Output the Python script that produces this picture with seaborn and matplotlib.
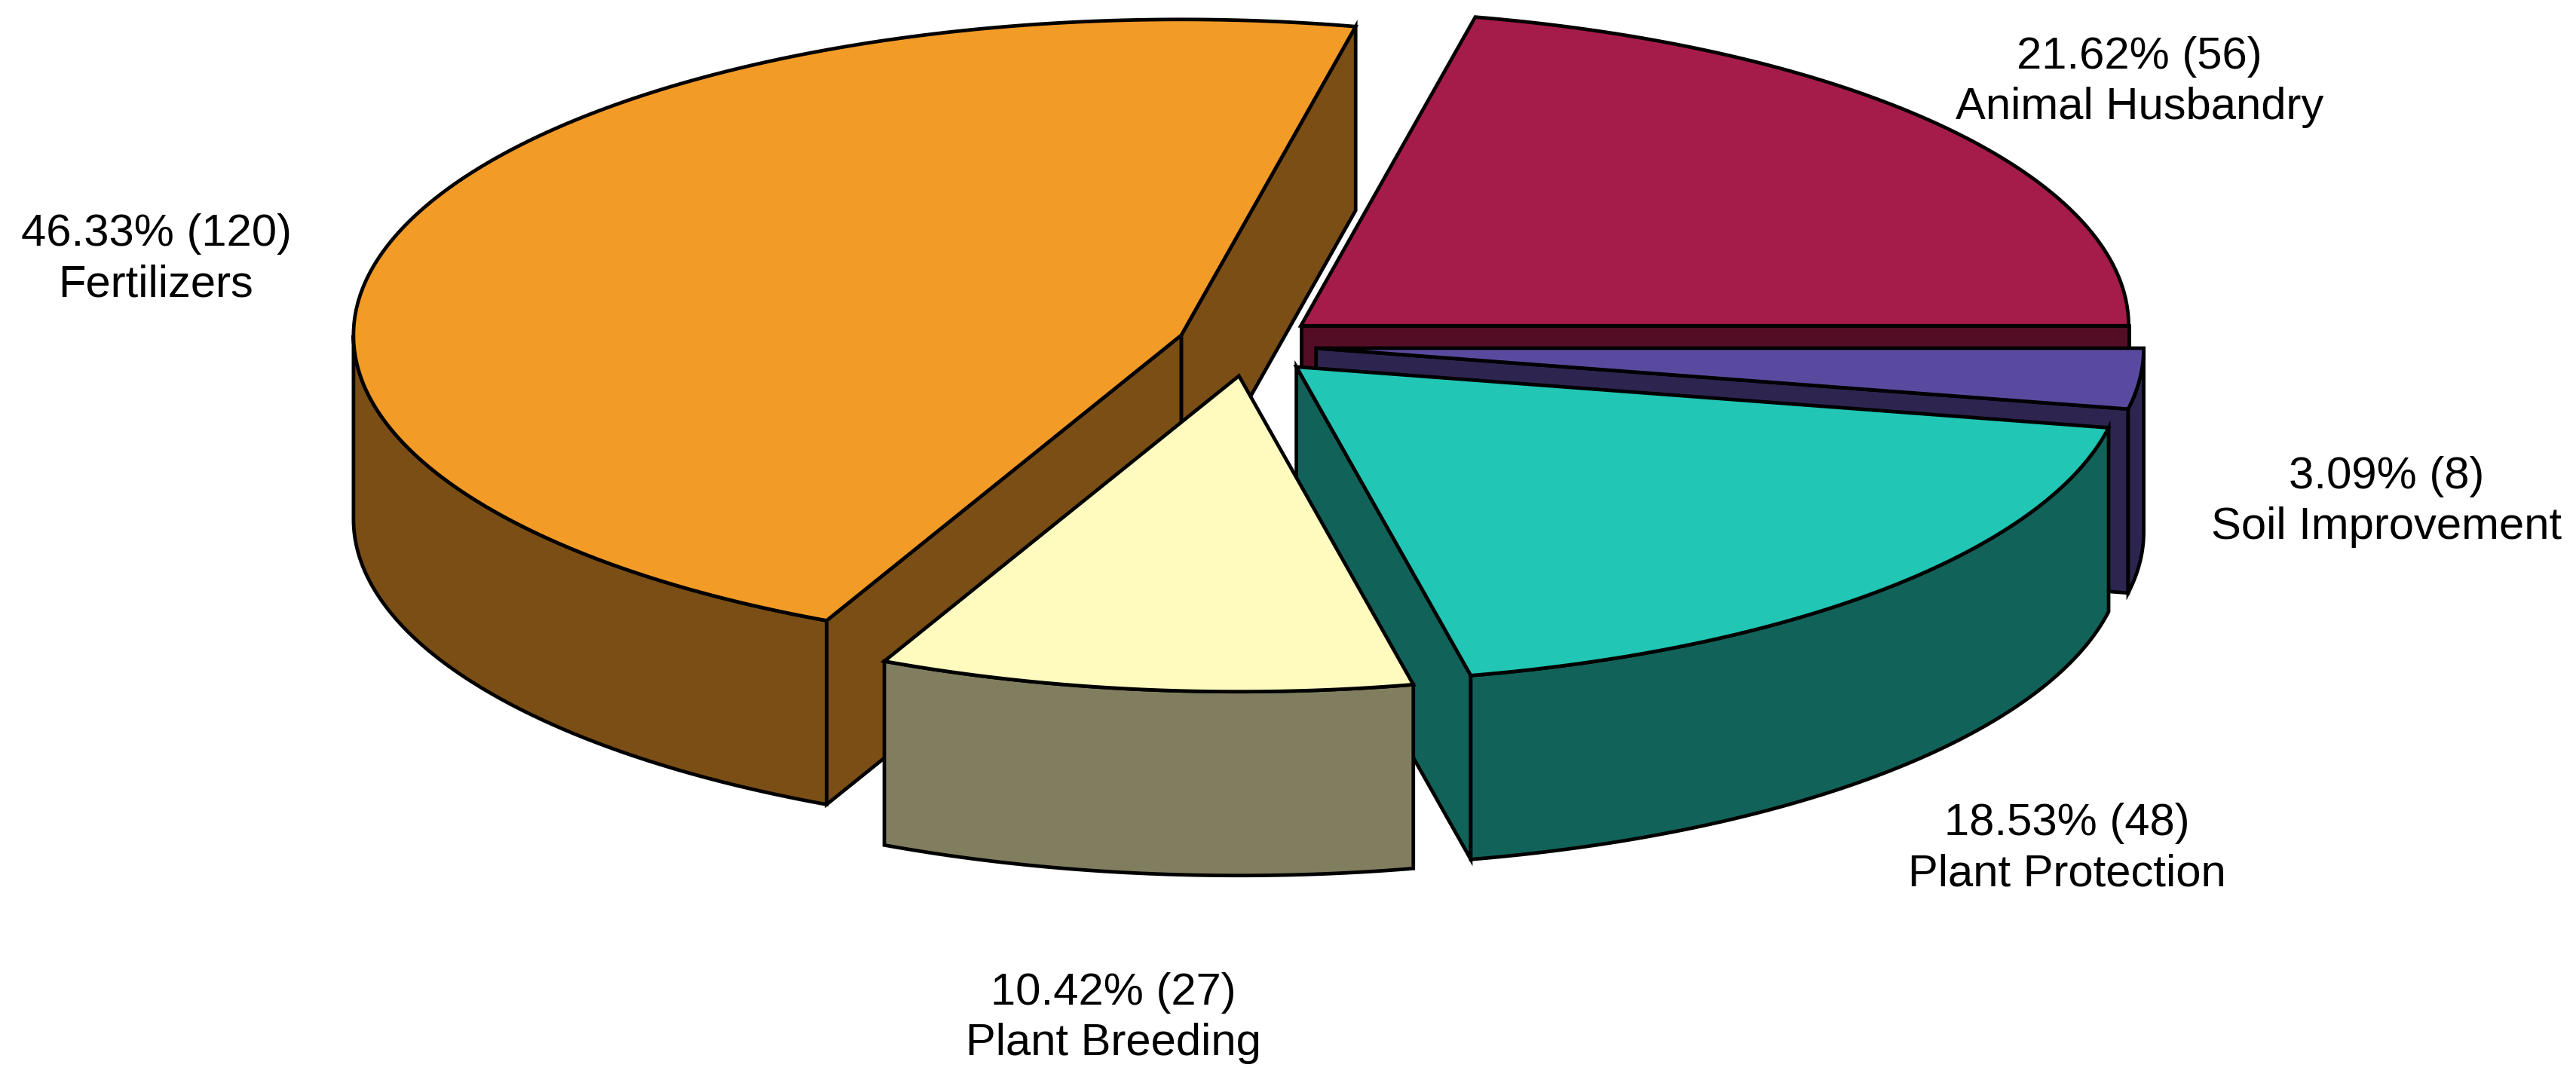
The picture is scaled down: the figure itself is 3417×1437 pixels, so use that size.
import numpy as np
import matplotlib
matplotlib.use("Agg")
import matplotlib.pyplot as plt
from matplotlib.patches import Polygon
import seaborn as sns

# Slice values, in chart order (counter-clockwise from 3 o'clock)
categories = ["Animal Husbandry", "Fertilizers", "Plant Breeding", "Plant Protection", "Soil Improvement"]
counts = [56, 120, 27, 48, 8]
percents = ["21.62", "46.33", "10.42", "18.53", "3.09"]

top_colors = ["#A51C4A", "#F39B27", "#FFFBBE", "#22C6B4", "#5A4A9F"]
label_xy = [(2838, 109), (207, 344), (1477, 1351), (2742, 1126), (3166, 666)]
# Back to front
draw_order = [0, 1, 4, 3, 2]

# Fake 3D pie geometry, in pixels
CENTER_X, CENTER_Y = 1654, 458
RADIUS_X, RADIUS_Y = 1098, 419
EXPLODE_X, EXPLODE_Y = 92, 41
DEPTH = 244
LINE_W = 3.4

sns.set_theme(style="white")
plt.rcParams["font.family"] = ["Liberation Sans", "DejaVu Sans"]


def arc_points(cx, cy, a1, a2):
    angles = np.radians(np.linspace(a1, a2, max(2, int(abs(a2 - a1) * 4))))
    return np.column_stack([cx + RADIUS_X * np.cos(angles), cy - RADIUS_Y * np.sin(angles)])


def add_poly(ax, pts, color):
    ax.add_patch(
        Polygon(pts, closed=True, facecolor=color, edgecolor="black", linewidth=LINE_W, joinstyle="miter")
    )


def radial_wall(ax, cx, cy, angle, color):
    rim = arc_points(cx, cy, angle, angle)[0]
    add_poly(ax, [(cx, cy), rim, (rim[0], rim[1] + DEPTH), (cx, cy + DEPTH)], color)


def draw_slice(ax, a1, a2, color):
    side = tuple(0.5 * c for c in color)
    mid = np.radians((a1 + a2) / 2)
    cx = CENTER_X + EXPLODE_X * np.cos(mid)
    cy = CENTER_Y - EXPLODE_Y * np.sin(mid)

    # cut faces, only the ones turned towards the viewer
    if np.sin(np.radians(a1 - 90)) < 0:
        radial_wall(ax, cx, cy, a1, side)
    if np.sin(np.radians(a2 + 90)) < 0:
        radial_wall(ax, cx, cy, a2, side)

    # outer wall is only seen on the lower half of the ellipse
    lo, hi = max(a1, 180), min(a2, 360)
    if hi > lo:
        rim = arc_points(cx, cy, lo, hi)
        add_poly(ax, np.vstack([rim, (rim + [0, DEPTH])[::-1]]), side)

    add_poly(ax, np.vstack([[(cx, cy)], arc_points(cx, cy, a1, a2)]), color)


fig = plt.figure(figsize=(34.17, 14.37), dpi=100, facecolor="white")
ax = fig.add_axes([0, 0, 1, 1])
ax.set_xlim(0, 3417)
ax.set_ylim(1437, 0)
ax.axis("off")

palette = sns.color_palette(top_colors)
edges = np.concatenate([[0], np.cumsum(counts)]) / sum(counts) * 360

for i in draw_order:
    draw_slice(ax, edges[i], edges[i + 1], palette[i])

for name, n, pct, (x, y) in zip(categories, counts, percents, label_xy):
    ax.text(x, y, f"{pct}% ({n})\n{name}", ha="center", va="center", fontsize=43, color="black", linespacing=1.28)

fig.savefig("out.png", dpi=100)
